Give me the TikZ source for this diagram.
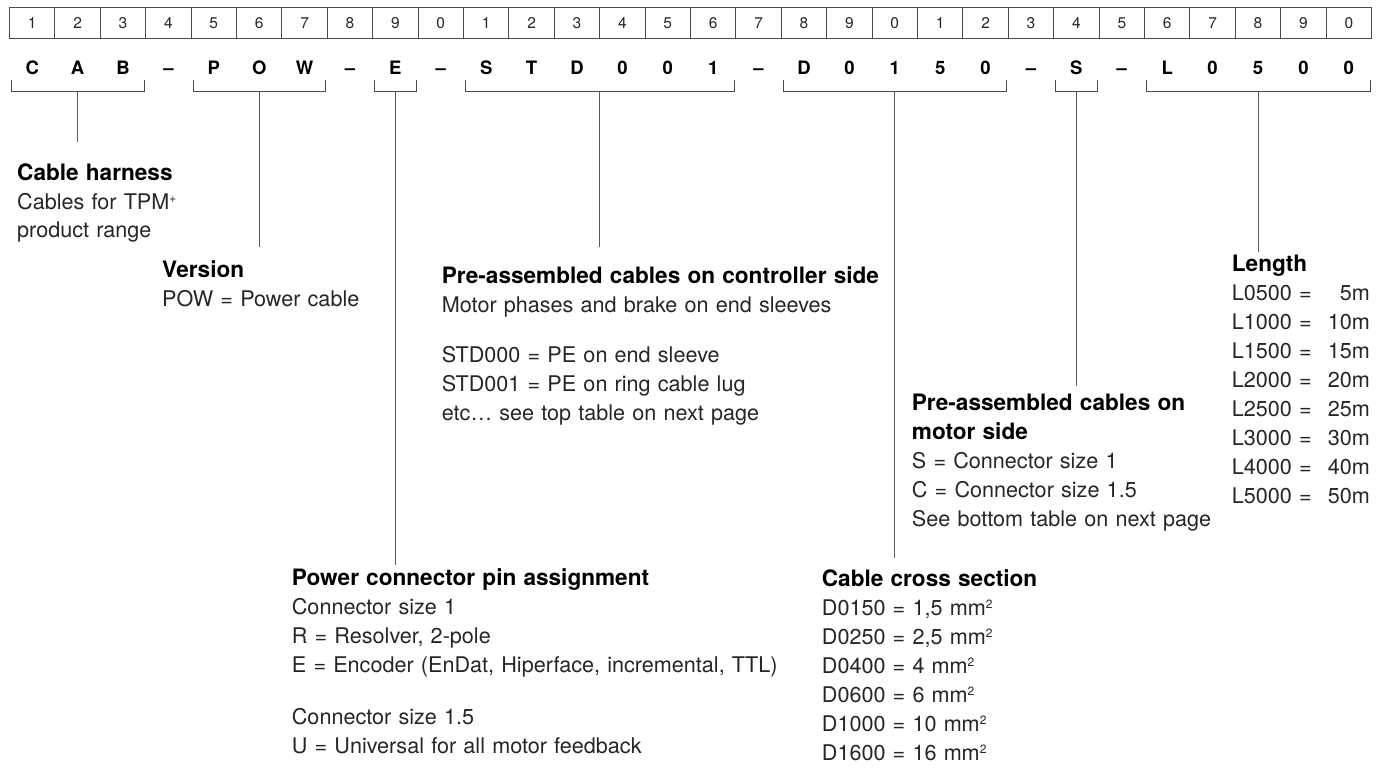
\documentclass[tikz,border=0pt]{standalone}
\usepackage{fontspec}
\setmainfont{TeX Gyre Heros}
\usetikzlibrary{calc}

\newcommand{\cabhead}[1]{{\fontsize{22.6}{29}\selectfont\bfseries\color{black}#1}}
\newcommand{\cabsup}[1]{\raisebox{6.5pt}{\fontsize{12}{12}\selectfont#1}}

\begin{document}
\begin{tikzpicture}[x=1pt, y=-1pt,
  cell/.style={rectangle, draw=black!70, line width=1.1pt, minimum width=45.4pt,
               minimum height=31pt, inner sep=0pt, text=black!85,
               font=\fontsize{15.5}{18}\selectfont},
  code/.style={anchor=base, inner sep=0pt, font=\fontsize{18.5}{22}\selectfont\bfseries},
  desc/.style={anchor=base west, inner sep=0pt, align=left, text=black!85,
               font=\fontsize{21.6}{29}\selectfont},
  brk/.style={draw=black!70, line width=1pt},
  stem/.style={draw=black!65, line width=1pt}]

  \useasboundingbox (0,0) rectangle (1382,773);

  \foreach \i in {1,...,30} {
    \pgfmathtruncatemacro\d{mod(\i,10)}
    \node[cell] (c\i) at ({9.5+(\i-0.5)*45.4}, 22.8) {\d};
  }

  \foreach \ch [count=\i] in {C,A,B,--,P,O,W,--,E,--,S,T,D,0,0,1,--,D,0,1,5,0,--,S,--,L,0,5,0,0}
    \node[code] (k\i) at (c\i.center |- 0,75) {\ch};

  \foreach \a/\b/\n/\e in {1/3/cab/142, 5/7/ver/247, 9/9/pin/565, 11/16/std/247,
                            18/22/dia/558, 24/24/mot/386, 26/30/len/252} {
    \draw[brk] ($(c\a.west |- 0,80)+(2.5,0)$) -- ($(c\a.west |- 0,92)+(2.5,0)$)
               -- ($(c\b.east |- 0,92)+(-2,0)$) -- ($(c\b.east |- 0,80)+(-2,0)$);
    \coordinate (top-\n) at ($(c\a.west |- 0,92)!0.5!(c\b.east |- 0,92)$);
    \coordinate (end-\n) at (top-\n |- 0,\e);
    \draw[stem] (top-\n) -- (end-\n);
  }

  \node[desc, text width=220pt] (cab) at (17,180)
    {\cabhead{Cable harness}\\ Cables for TPM\cabsup{+}\\ product range};

  \node[desc, text width=260pt] (ver) at (162,277)
    {\cabhead{Version}\\ POW = Power cable};

  \node[desc, text width=480pt] (std) at (441.7,283)
    {\cabhead{Pre-assembled cables on controller side}\\
     Motor phases and brake on end sleeves\\[21pt]
     STD000 = PE on end sleeve\\
     STD001 = PE on ring cable lug\\
     etc… see top table on next page};

  \node[desc, text width=330pt] (mot) at (911.7,410)
    {\cabhead{Pre-assembled cables on}\\ \cabhead{motor side}\\
     S = Connector size 1\\
     C = Connector size 1.5\\
     See bottom table on next page};

  \node[desc, text width=138pt] (len) at (1231.7,271)
    {\cabhead{Length}\\
     L0500 =\hfill 5m\\ L1000 =\hfill 10m\\ L1500 =\hfill 15m\\ L2000 =\hfill 20m\\
     L2500 =\hfill 25m\\ L3000 =\hfill 30m\\ L4000 =\hfill 40m\\ L5000 =\hfill 50m};

  \node[desc, text width=280pt] (dia) at (821.7,586)
    {\cabhead{Cable cross section}\\
     D0150 = 1,5 mm\cabsup{2}\\ D0250 = 2,5 mm\cabsup{2}\\
     D0400 = 4 mm\cabsup{2}\\ D0600 = 6 mm\cabsup{2}\\
     D1000 = 10 mm\cabsup{2}\\ D1600 = 16 mm\cabsup{2}};

  \node[desc, text width=510pt] (pin) at (291.7,585)
    {\cabhead{Power connector pin assignment}\\
     Connector size 1\\
     R = Resolver, 2-pole\\
     E = Encoder (EnDat, Hiperface, incremental, TTL)\\[23pt]
     Connector size 1.5\\
     U = Universal for all motor feedback};

\end{tikzpicture}
\end{document}
